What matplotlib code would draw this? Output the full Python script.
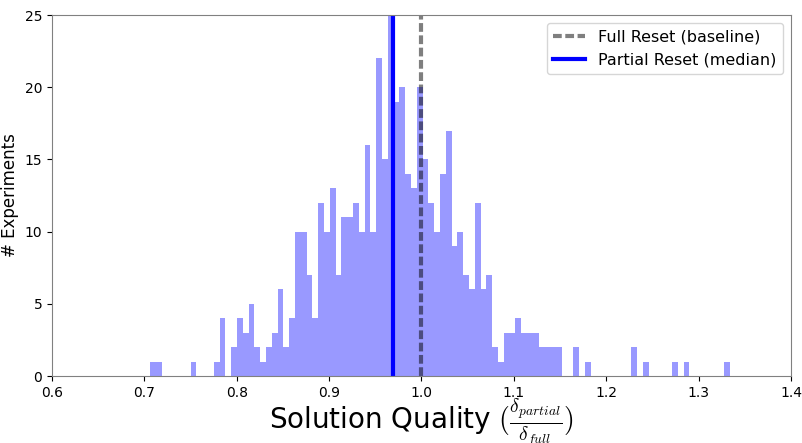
import numpy as np
import matplotlib
matplotlib.use("Agg")
import matplotlib.pyplot as plt

# histogram: 100 equal bins between the smallest and largest result
bin_lo = 0.7061
bin_hi = 1.3340
counts = [1, 1, 0, 0, 0, 0, 0, 1, 0, 0,
          0, 1, 4, 0, 2, 4, 3, 5, 2, 1,
          2, 3, 6, 2, 4, 10, 10, 7, 4, 12,
          10, 13, 7, 11, 11, 12, 10, 16, 10, 22,
          15, 28, 19, 20, 14, 13, 20, 15, 12, 10,
          14, 17, 9, 10, 7, 6, 12, 6, 7, 2,
          1, 3, 3, 4, 3, 3, 3, 2, 2, 2,
          2, 0, 0, 2, 0, 1, 0, 0, 0, 0,
          0, 0, 0, 2, 0, 1, 0, 0, 0, 0,
          1, 0, 1, 0, 0, 0, 0, 0, 0, 1]
baseline = 1.0
median_partial = 0.9691
xticks = [0.6, 0.7, 0.8, 0.9, 1.0, 1.1, 1.2, 1.3, 1.4]
yticks = [0, 5, 10, 15, 20, 25]

plt.rcParams["mathtext.fontset"] = "cm"

edges = np.linspace(bin_lo, bin_hi, len(counts) + 1)
centers = (edges[:-1] + edges[1:]) / 2

fig = plt.figure(figsize=(8.03, 4.43), dpi=100)
ax = fig.add_axes([0.0648, 0.1512, 0.9202, 0.8149])

ax.hist(centers, bins=edges, weights=counts, color="blue", alpha=0.4)
ax.axvline(baseline, color="k", alpha=0.5, lw=3, ls="--", dashes=(2.1, 0.85),
           label="Full Reset (baseline)")
ax.axvline(median_partial, color="blue", lw=3, label="Partial Reset (median)")

ax.set_xlim(0.6, 1.4)
ax.set_ylim(0, 25)
ax.set_xticks(xticks)
ax.set_yticks(yticks)
ax.tick_params(labelsize=10)
for s in ax.spines.values():
    s.set_color("#808080")

ax.set_xlabel(r"Solution Quality $(\frac{\delta_{partial}}{\delta_{full}})$",
              fontsize=20, labelpad=-2.5)
ax.set_ylabel("# Experiments", fontsize=12)
ax.legend(loc="upper right", fontsize=11.5)

fig.savefig("out.png", dpi=100)
